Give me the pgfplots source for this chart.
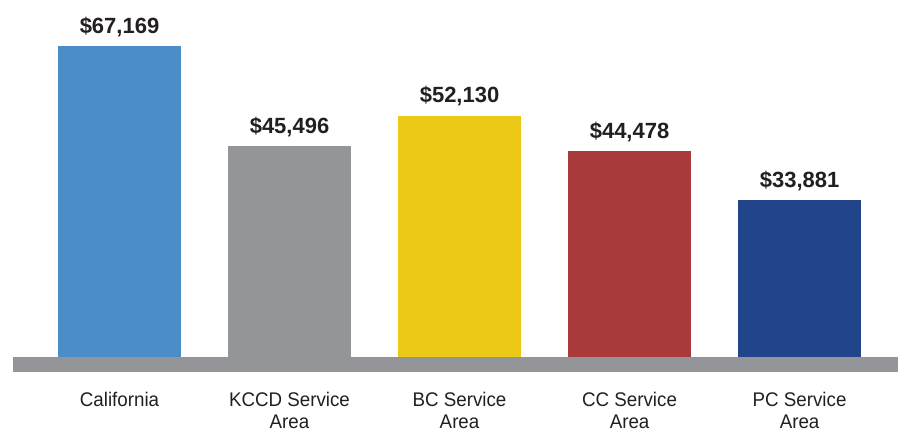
\documentclass[border=0pt]{standalone}
\usepackage{pgfplots}
\pgfplotsset{compat=1.18}
\usepackage{fontspec}
\setmainfont{Liberation Sans}
\newfontfamily\catfont[FakeStretch=0.95]{Liberation Sans}

\definecolor{cablue}{HTML}{4A8DC9}
\definecolor{kcgray}{HTML}{939598}
\definecolor{bcyellow}{HTML}{EDC917}
\definecolor{ccred}{HTML}{A93A3B}
\definecolor{pcnavy}{HTML}{22448A}
\definecolor{txt}{HTML}{231F20}

\begin{document}
\begin{tikzpicture}
\useasboundingbox (0,0) rectangle (673.5pt,324pt);
\begin{axis}[
    at={(9.75pt,45pt)}, anchor=south west,
    scale only axis,
    width=663.75pt, height=279pt,
    xmin=-0.6265, xmax=4.579,
    ymin=-3240, ymax=77106,
    ybar, bar width=92.25pt, bar shift=0pt,
    axis line style={draw=none},
    major tick length=0pt,
    ytick=\empty,
    xtick={0,1,2,3,4},
    xticklabels={California, KCCD Service\\Area, BC Service\\Area, CC Service\\Area, PC Service\\Area},
    xticklabel style={align=center, anchor=north, inner sep=0pt, yshift=-15pt,
        font=\catfont\fontsize{14.8}{16.6}\selectfont, text=txt},
    clip=false,
    point meta=explicit symbolic,
    nodes near coords,
    every node near coord/.append style={anchor=base, inner sep=0pt, yshift=9.75pt,
        font=\bfseries\fontsize{16.5}{18}\selectfont, text=txt},
]
\fill[kcgray] (axis cs:-0.6265,-3240) rectangle (axis cs:4.579,0);
\addplot[draw=none, fill=cablue] coordinates {(0,67169) [\$67,169]};
\addplot[draw=none, fill=kcgray] coordinates {(1,45496) [\$45,496]};
\addplot[draw=none, fill=bcyellow] coordinates {(2,52130) [\$52,130]};
\addplot[draw=none, fill=ccred] coordinates {(3,44478) [\$44,478]};
\addplot[draw=none, fill=pcnavy] coordinates {(4,33881) [\$33,881]};
\end{axis}
\end{tikzpicture}
\end{document}
